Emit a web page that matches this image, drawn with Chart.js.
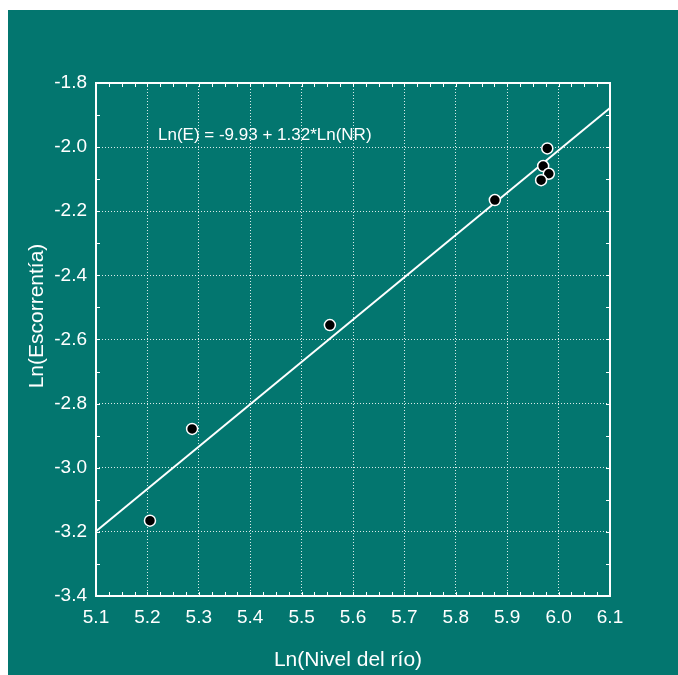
<!DOCTYPE html>
<html>
<head>
<meta charset="utf-8">
<script src="https://cdn.jsdelivr.net/npm/chart.js@4.4.1/dist/chart.umd.min.js"></script>
<style>
  body { margin: 0; background: #fff; }
  #panel { position: absolute; left: 8px; top: 10px; width: 670px; height: 665px; background: #03766f; }
</style>
</head>
<body>
<div id="panel"><canvas id="chart" width="670" height="665"></canvas></div>
<script>
// river level vs runoff (log values)
const lnNivel = [5.205, 5.287, 5.555, 5.876, 5.978, 5.970, 5.981, 5.966];
const lnEscorrentia = [-3.165, -2.879, -2.555, -2.165, -2.004, -2.059, -2.083, -2.103];
const fitA = -9.93, fitB = 1.32;
const xRange = [5.1, 6.1];
const yRange = [-3.4, -1.8];
const eqText = 'Ln(E) = -9.93 + 1.32*Ln(NR)';
const xTitle = 'Ln(Nivel del río)';
const yTitle = 'Ln(Escorrentía)';

const FONT = '"Liberation Sans", Arial, sans-serif';
const WHITE = '#ffffff';

const pts = lnNivel.map((x, i) => ({ x: x, y: lnEscorrentia[i] }));
const fitLine = xRange.map(x => ({ x: x, y: fitA + fitB * x }));

// frame, inward ticks, equation and axis titles
const framePlugin = {
    id: 'frame',
    afterDraw(chart) {
        const ctx = chart.ctx;
        const a = chart.chartArea;
        const xs = chart.scales.x, ys = chart.scales.y;
        ctx.save();
        ctx.strokeStyle = WHITE;
        ctx.lineWidth = 1;
        ctx.beginPath();
        for (let i = 0; i <= 40; i++) {
            const px = Math.round(xs.getPixelForValue(xRange[0] + i * 0.025)) + 0.5;
            ctx.moveTo(px, a.top); ctx.lineTo(px, a.top + 4);
            ctx.moveTo(px, a.bottom); ctx.lineTo(px, a.bottom - 4);
        }
        for (let i = 0; i <= 16; i++) {
            const py = Math.round(ys.getPixelForValue(yRange[0] + i * 0.1)) + 0.5;
            ctx.moveTo(a.left, py); ctx.lineTo(a.left + 4, py);
            ctx.moveTo(a.right, py); ctx.lineTo(a.right - 4, py);
        }
        ctx.stroke();
        ctx.lineWidth = 2;
        ctx.strokeRect(a.left, a.top, a.right - a.left, a.bottom - a.top);

        ctx.fillStyle = WHITE;
        ctx.font = '17px ' + FONT;
        ctx.textAlign = 'left';
        ctx.textBaseline = 'alphabetic';
        ctx.fillText(eqText, a.left + 62, a.top + 57);

        ctx.font = '21px ' + FONT;
        ctx.textAlign = 'center';
        ctx.fillText(xTitle, 340, 656);
        ctx.translate(29, 306);
        ctx.rotate(-Math.PI / 2);
        ctx.textBaseline = 'middle';
        ctx.fillText(yTitle, 0, 0);
        ctx.restore();
    }
};

new Chart(document.getElementById('chart'), {
    type: 'scatter',
    data: {
        datasets: [
            { type: 'scatter', data: pts, order: 1, pointRadius: 5.5, pointHoverRadius: 5.5,
              backgroundColor: '#000', borderColor: WHITE, borderWidth: 1.5 },
            { type: 'line', data: fitLine, order: 2, borderColor: WHITE, borderWidth: 2,
              pointRadius: 0, fill: false, tension: 0 }
        ]
    },
    options: {
        responsive: false,
        animation: false,
        layout: { padding: { left: 0, top: 73, right: 68, bottom: 0 } },
        plugins: { legend: { display: false }, tooltip: { enabled: false } },
        scales: {
            x: {
                type: 'linear', min: xRange[0], max: xRange[1],
                afterFit: s => { s.height = 79; },
                grid: { color: 'rgba(255,255,255,0.85)', lineWidth: 1, drawTicks: false },
                border: { display: false, dash: [1, 2] },
                ticks: { stepSize: 0.1, padding: 10, color: WHITE, font: { family: FONT, size: 19 },
                         callback: v => v.toFixed(1) }
            },
            y: {
                type: 'linear', min: yRange[0], max: yRange[1],
                afterFit: s => { s.width = 88; },
                grid: { color: 'rgba(255,255,255,0.85)', lineWidth: 1, drawTicks: false },
                border: { display: false, dash: [1, 2] },
                ticks: { stepSize: 0.2, padding: 9, color: WHITE, font: { family: FONT, size: 19 },
                         callback: v => v.toFixed(1) }
            }
        }
    },
    plugins: [framePlugin]
});
</script>
</body>
</html>
